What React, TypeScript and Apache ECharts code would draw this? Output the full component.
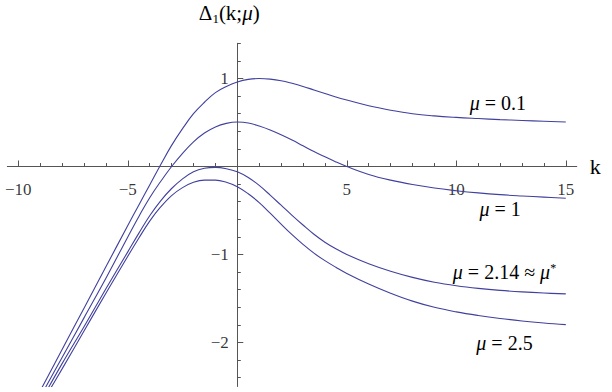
import React, { useEffect, useRef } from 'react';
import * as echarts from 'echarts';

// k values at which curves were read
const kValues = [-9, -8, -7, -6, -5, -4.5, -4, -3.5, -3, -2.5, -2, -1.5, -1, -0.5, 0, 0.5, 1, 1.5, 2, 2.5, 3, 3.5, 4, 4.5, 5, 6, 7, 8, 9, 10, 11, 12, 13, 14, 15];
// Δ1(k;μ) for each μ
const mu01 = [-2.55, -2.08, -1.61, -1.14, -0.67, -0.44, -0.21, 0.02, 0.24, 0.43, 0.6, 0.73, 0.84, 0.91, 0.96, 0.99, 1.0, 0.993, 0.975, 0.945, 0.91, 0.87, 0.83, 0.79, 0.755, 0.69, 0.64, 0.6, 0.575, 0.558, 0.545, 0.533, 0.523, 0.514, 0.506];
const mu1 = [-2.62, -2.17, -1.72, -1.27, -0.8, -0.57, -0.355, -0.17, 0.0, 0.15, 0.28, 0.38, 0.45, 0.49, 0.505, 0.495, 0.46, 0.415, 0.36, 0.3, 0.235, 0.17, 0.11, 0.052, 0.0, -0.09, -0.155, -0.205, -0.245, -0.275, -0.3, -0.32, -0.335, -0.348, -0.36];
const mu214 = [-2.68, -2.24, -1.82, -1.39, -0.97, -0.76, -0.56, -0.39, -0.25, -0.14, -0.06, -0.02, -0.01, -0.025, -0.06, -0.125, -0.215, -0.325, -0.44, -0.555, -0.665, -0.77, -0.86, -0.935, -1.0, -1.105, -1.19, -1.26, -1.315, -1.355, -1.385, -1.408, -1.425, -1.438, -1.448];
const mu25 = [-2.72, -2.3, -1.87, -1.44, -1.02, -0.815, -0.62, -0.46, -0.33, -0.24, -0.18, -0.155, -0.155, -0.18, -0.23, -0.31, -0.41, -0.53, -0.655, -0.775, -0.885, -0.985, -1.07, -1.145, -1.215, -1.335, -1.44, -1.53, -1.6, -1.652, -1.693, -1.727, -1.755, -1.778, -1.797];

const seriesNames = ['μ=0.1', 'μ=1', 'μ=2.14≈μ*', 'μ=2.5'];
const seriesValues = [mu01, mu1, mu214, mu25];

// axis ticks and tick labels
const xMajorTicks = [-10, -5, 5, 10, 15];
const xMinorTicks = [-10, -9, -8, -7, -6, -5, -4, -3, -2, -1, 1, 2, 3, 4, 5, 6, 7, 8, 9, 10, 11, 12, 13, 14, 15];
const yMajorTicks = [-2, -1, 1];
const yMinorTicks = [-2.4, -2.2, -2, -1.8, -1.6, -1.4, -1.2, -1, -0.8, -0.6, -0.4, -0.2, 0.2, 0.4, 0.6, 0.8, 1, 1.2, 1.4];

// label anchors (data coordinates) for the curve annotations
const labelAnchors: [number, number][] = [[11.9, 0.72], [12.0, -0.48], [12.2, -1.2], [12.2, -2.0]];
const labelTexts = [
  '{m|μ}{t| = 0.1}',
  '{m|μ}{t| = 1}',
  '{m|μ}{t| = 2.14 ≈ }{m|μ}{sup|*}',
  '{m|μ}{t| = 2.5}',
];

const SERIF = '"Liberation Serif", "DejaVu Serif", serif';
const AXIS_COLOR = '#555555';
const LINE_COLOR = '#40409e';

const fmt = (v: number) => (v < 0 ? '\u2212' + Math.abs(v) : String(v));

export default function App() {
  const ref = useRef<HTMLDivElement>(null);
  useEffect(() => {
    document.body.style.margin = '0';
    if (!ref.current) return;
    const chart = echarts.init(ref.current, undefined, { renderer: 'svg' });
    const xMin = -10.5, xMax = 15.5, yMin = -2.5, yMax = 1.4;
    const labelRich = {
      m: { fontFamily: SERIF, fontStyle: 'italic', fontSize: 20, color: '#000' },
      t: { fontFamily: SERIF, fontSize: 20, color: '#000' },
      sup: { fontFamily: SERIF, fontSize: 12, color: '#000', verticalAlign: 'top' },
    };
    const tickLabelStyle = { fontFamily: SERIF, fontSize: 17, color: '#000' };
    const option: any = {
      animation: false,
      backgroundColor: '#ffffff',
      grid: { left: 7.35, right: 35.25, top: 43.3, bottom: 5.5, containLabel: false, outerBoundsMode: 'none' },
      xAxis: [
        {
          type: 'value', min: xMin, max: xMax, position: 'bottom',
          name: 'k', nameLocation: 'end', nameGap: 13,
          nameTextStyle: { fontFamily: SERIF, fontSize: 22, color: '#000', verticalAlign: 'middle' },
          axisLine: { show: true, onZero: true, onZeroAxisIndex: 0, lineStyle: { color: AXIS_COLOR, width: 1 } },
          axisTick: { show: true, inside: true, length: 3.5, customValues: xMinorTicks, lineStyle: { color: AXIS_COLOR, width: 1 } },
          axisLabel: { show: false },
          splitLine: { show: false },
        },
        {
          type: 'value', min: xMin, max: xMax, position: 'bottom',
          axisLine: { show: false, onZero: true, onZeroAxisIndex: 0 },
          axisTick: { show: true, inside: true, length: 6, customValues: xMajorTicks, lineStyle: { color: AXIS_COLOR, width: 1 } },
          axisLabel: { show: false },
          splitLine: { show: false },
        },
      ],
      yAxis: [
        {
          type: 'value', min: yMin, max: yMax, position: 'left',
          name: '{d|Δ}{s|1}{d|(k;}{m|μ}{d|)}', nameLocation: 'end', nameGap: 18,
          nameTextStyle: {
            align: 'center',
            padding: [0, 16, 0, 0],
            rich: {
              d: { fontFamily: SERIF, fontSize: 21, color: '#000', lineHeight: 24 },
              m: { fontFamily: SERIF, fontStyle: 'italic', fontSize: 21, color: '#000', lineHeight: 24 },
              s: { fontFamily: SERIF, fontSize: 13, color: '#000', verticalAlign: 'bottom', lineHeight: 14 },
            },
          },
          axisLine: { show: true, onZero: true, onZeroAxisIndex: 0, lineStyle: { color: AXIS_COLOR, width: 1 } },
          axisTick: { show: true, inside: true, length: 3.5, customValues: yMinorTicks, lineStyle: { color: AXIS_COLOR, width: 1 } },
          axisLabel: { show: false },
          splitLine: { show: false },
        },
        {
          type: 'value', min: yMin, max: yMax, position: 'left',
          axisLine: { show: false, onZero: true, onZeroAxisIndex: 0 },
          axisTick: { show: true, inside: true, length: 6, customValues: yMajorTicks, lineStyle: { color: AXIS_COLOR, width: 1 } },
          axisLabel: { show: false },
          splitLine: { show: false },
        },
      ],
      series: [
        ...seriesValues.map((vals, i) => ({
          name: seriesNames[i],
          type: 'line',
          xAxisIndex: 0,
          yAxisIndex: 0,
          data: kValues.map((k, j) => [k, vals[j]]),
          smooth: 0.4,
          showSymbol: false,
          symbol: 'none',
          clip: true,
          lineStyle: { color: LINE_COLOR, width: 1.1 },
          markPoint: {
            silent: true,
            symbol: 'circle',
            symbolSize: 1,
            itemStyle: { color: 'rgba(0,0,0,0)' },
            label: { show: true, position: 'inside', formatter: labelTexts[i], rich: labelRich, color: '#000' },
            data: [{ coord: labelAnchors[i] }],
          },
        })),
        {
          name: 'xTickLabels',
          type: 'scatter',
          silent: true,
          xAxisIndex: 0,
          yAxisIndex: 0,
          symbolSize: 1,
          itemStyle: { color: 'rgba(0,0,0,0)' },
          data: xMajorTicks.map((v) => [v, 0]),
          label: { show: true, position: 'bottom', distance: 14, formatter: (p: any) => fmt(p.value[0]), ...tickLabelStyle },
        },
        {
          name: 'yTickLabels',
          type: 'scatter',
          silent: true,
          xAxisIndex: 0,
          yAxisIndex: 0,
          symbolSize: 1,
          itemStyle: { color: 'rgba(0,0,0,0)' },
          data: yMajorTicks.map((v) => [0, v]),
          label: { show: true, position: 'left', distance: 8, formatter: (p: any) => fmt(p.value[1]), ...tickLabelStyle },
        },
      ],
    };
    chart.setOption(option);
    return () => chart.dispose();
  }, []);
  return <div ref={ref} style={{ position: 'fixed', left: 0, top: 0, width: 612, height: 392, background: '#fff' }} />;
}
